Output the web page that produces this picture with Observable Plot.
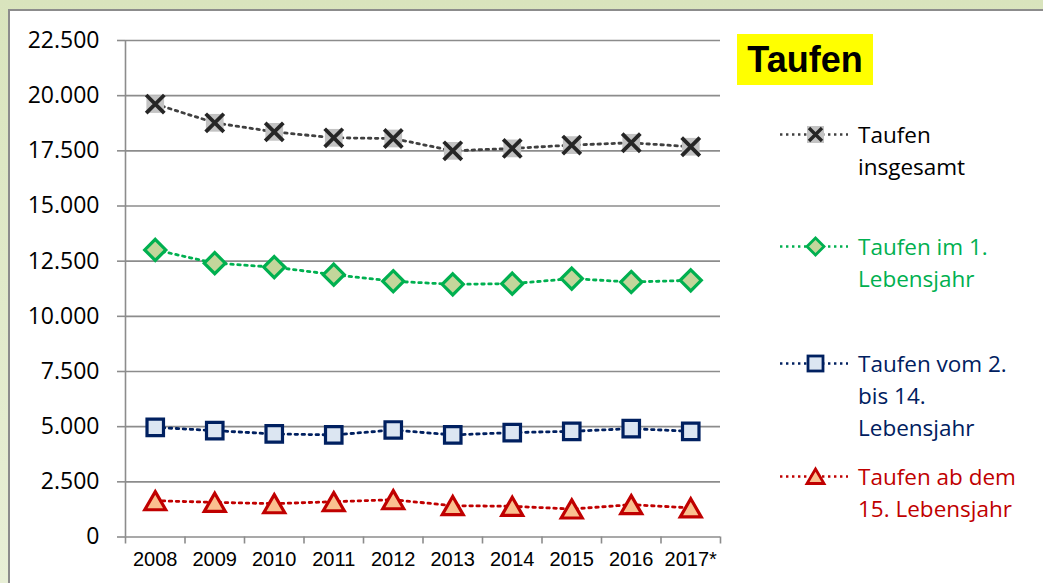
<!DOCTYPE html>
<html><head><meta charset="utf-8">
<script src="https://cdn.jsdelivr.net/npm/d3@7"></script>
<script src="https://cdn.jsdelivr.net/npm/@observablehq/plot@0.6"></script>
<style>
html,body{margin:0;padding:0;}
body{width:1043px;height:583px;overflow:hidden;background:linear-gradient(#d9e4bd,#e8efd6);position:relative;font-family:"Liberation Sans",Arial,sans-serif;}
#panel{position:absolute;left:8px;top:9px;width:1045px;height:585px;background:#fff;border-top:2px solid #8c8c8c;border-left:2px solid #8c8c8c;}
#chart{position:absolute;left:0;top:0;}
#title{position:absolute;left:737px;top:34px;width:136px;height:51px;background:#ffff00;font:bold 36px "Liberation Sans",Arial,sans-serif;line-height:51px;text-align:center;color:#000;}
.leg{position:absolute;left:780px;width:260px;}
.leg svg{position:absolute;left:0;top:5px;}
.leg div{position:absolute;left:78px;top:0;font-family:"Open Sans",sans-serif;font-size:22.5px;line-height:32px;white-space:nowrap;}
</style></head>
<body>
<div id="panel"></div>
<div id="chart"></div>
<div id="title">Taufen</div>
<div id="legend"></div>
<script>
const years = ["2008","2009","2010","2011","2012","2013","2014","2015","2016","2017*"];
const total = [19620,18770,18360,18090,18060,17500,17610,17760,17865,17685];
const firstYear = [13010,12410,12230,11890,11590,11450,11480,11710,11555,11630];
const age2to14 = [4970,4820,4670,4625,4850,4625,4730,4790,4910,4790];
const age15plus = [1645,1570,1510,1600,1690,1420,1390,1270,1465,1320];
const yTicks = [0,2500,5000,7500,10000,12500,15000,17500,20000,22500];
const seriesNames = [["Taufen","insgesamt"],["Taufen im 1.","Lebensjahr"],["Taufen vom 2.","bis 14.","Lebensjahr"],["Taufen ab dem","15. Lebensjahr"]];
const seriesColors = ["#000000","#00b050","#002060","#c00000"];

const rows = vals => years.map((y, i) => ({year: y, pos: i + 0.5, value: vals[i]}));
const de = d3.formatLocale({decimal: ",", thousands: ".", grouping: [3], currency: ["", "€"]});
const fmt = de.format(",");
const grid = "#8c8c8c";
const dash = "2.5,4.5";

const lineOpts = c => ({x: "pos", y: "value", stroke: c, strokeWidth: 2.8, strokeDasharray: dash});

const plot = Plot.plot({
  width: 740, height: 583,
  marginLeft: 125, marginRight: 20, marginTop: 40, marginBottom: 46.5,
  x: {type: "linear", domain: [0, 10], axis: null},
  y: {domain: [0, 22500], axis: null},
  style: {background: "transparent", overflow: "visible"},
  marks: [
    Plot.ruleY(yTicks, {stroke: grid, strokeWidth: 1.6}),
    Plot.ruleX([0], {stroke: grid, strokeWidth: 1.6}),
    Plot.axisY({ticks: yTicks, tickSize: 8, tickPadding: 18, tickFormat: fmt, stroke: grid, strokeWidth: 1.6, fill: "#000", fontSize: 23, fontFamily: "Open Sans", label: null}),
    Plot.axisX({ticks: d3.range(0, 11), tickSize: 7, tickFormat: () => "", stroke: grid, strokeWidth: 1.6, label: null}),
    Plot.axisX({ticks: years.map((_, i) => i + 0.5), tickSize: 0, tickPadding: 15, tickFormat: d => years[Math.round(d - 0.5)], fill: "#000", fontSize: 20, fontFamily: "Liberation Sans", label: null}),
    Plot.line(rows(total), lineOpts("#404040")),
    Plot.line(rows(firstYear), lineOpts("#00b050")),
    Plot.line(rows(age2to14), lineOpts("#002060")),
    Plot.line(rows(age15plus), lineOpts("#c00000")),
    Plot.dot(rows(total), {x: "pos", y: "value", symbol: "square", r: 10, fill: "#c3c3c3", stroke: "none"}),
    Plot.dot(rows(total), {x: "pos", y: "value", symbol: "times", r: 8.3, stroke: "#262626", strokeWidth: 3.8}),
    Plot.dot(rows(firstYear), {x: "pos", y: "value", symbol: "diamond2", r: 9.5, fill: "#c3d69b", stroke: "#00b050", strokeWidth: 3.2}),
    Plot.dot(rows(age2to14), {x: "pos", y: "value", symbol: "square", r: 9.3, fill: "#dce6f2", stroke: "#002060", strokeWidth: 3.2}),
    Plot.dot(rows(age15plus), {x: "pos", y: "value", symbol: "triangle2", r: 10, fill: "#fac090", stroke: "#c00000", strokeWidth: 3.2, dy: 3})
  ]
});
document.getElementById("chart").appendChild(plot);

// legend
const legTops = [119, 231, 348, 461];
const swatch = [
  `<rect x="27" y="2" width="17" height="17" fill="#c3c3c3"/><path d="M29,4L42,17M29,17L42,4" stroke="#262626" stroke-width="3.4"/>`,
  `<path d="M35.5,2L44,10.5L35.5,19L27,10.5Z" fill="#c3d69b" stroke="#00b050" stroke-width="2.8"/>`,
  `<rect x="28" y="3" width="15" height="15" fill="#dce6f2" stroke="#002060" stroke-width="2.8"/>`,
  `<path d="M35.5,3L44,17.5L27,17.5Z" fill="#fac090" stroke="#c00000" stroke-width="2.8"/>`
];
const lineCol = ["#404040", "#00b050", "#002060", "#c00000"];
const legend = document.getElementById("legend");
seriesNames.forEach((lines, k) => {
  const e = document.createElement("div");
  e.className = "leg";
  e.style.top = legTops[k] + "px";
  e.innerHTML = `<svg width="70" height="22"><line x1="0" x2="68" y1="10.5" y2="10.5" stroke="${lineCol[k]}" stroke-width="2.4" stroke-dasharray="2.4,3.6"/>${swatch[k]}</svg><div style="color:${seriesColors[k]}">${lines.join("<br>")}</div>`;
  legend.appendChild(e);
});
</script>
</body></html>
